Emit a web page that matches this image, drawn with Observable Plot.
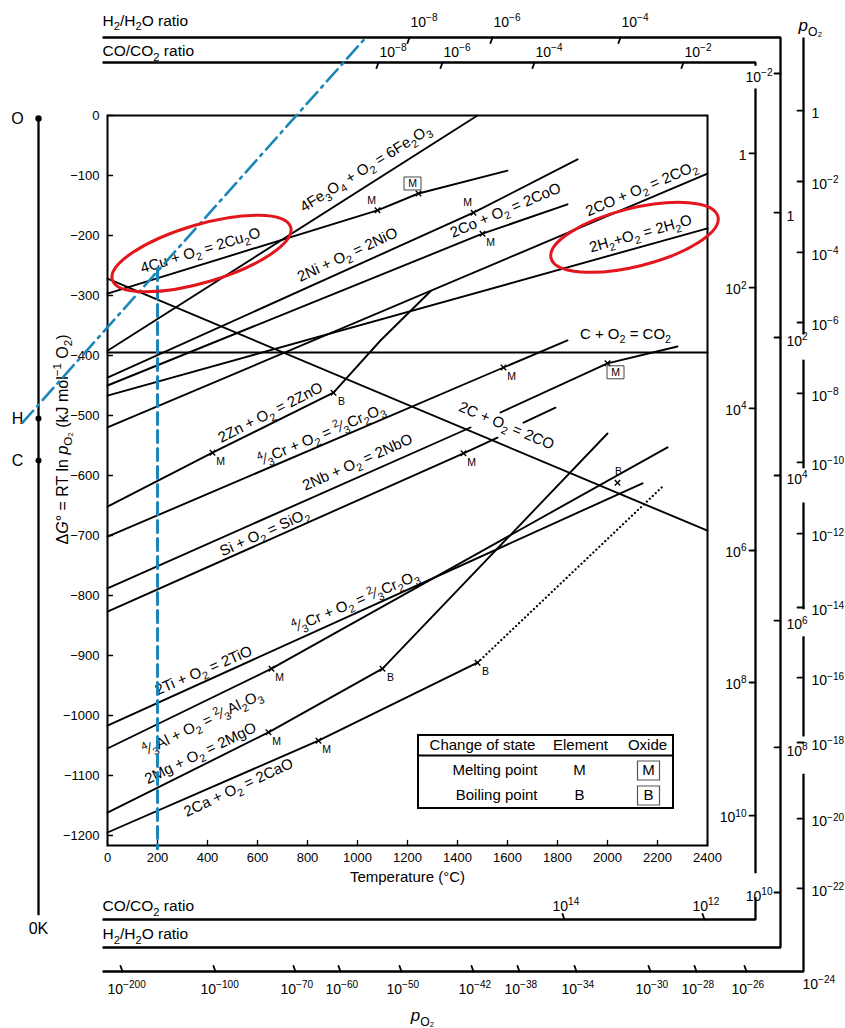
<!DOCTYPE html>
<html><head><meta charset="utf-8">
<script src="https://cdn.jsdelivr.net/npm/d3@7"></script>
<script src="https://cdn.jsdelivr.net/npm/@observablehq/plot@0.6"></script>
<style>
html,body{margin:0;padding:0;background:#fff;}
svg{display:block}
</style></head><body><div id="chart"></div>
<script>
// ================= DATA (T in °C, ΔG in kJ per mol O2) =================
const temperatureTicks = [0,200,400,600,800,1000,1200,1400,1600,1800,2000,2200,2400];
const deltaGTicks = [0,-100,-200,-300,-400,-500,-600,-700,-800,-900,-1000,-1100,-1200];

const lineCu2O   = [[0,-297],[1080,-158],[1244,-130],[1600,-92]];
const lineFe2O3  = [[0,-392],[1480,0]];
const lineNiO    = [[0,-437],[1464,-162],[1880,-73]];
const lineCoO    = [[0,-450],[1500,-197],[1840,-148]];
const lineCO2fromCO = [[0,-520],[2400,-97]];
const lineH2O    = [[0,-467],[2400,-188]];
const lineCO2    = [[0,-395],[2400,-395]];
const lineCO     = [[0,-272],[2400,-692]];
const lineZnO    = [[0,-652],[420,-562],[904,-462],[1092,-375],[1292,-293]];
const lineCr2O3  = [[0,-702],[1584,-420],[1840,-375]];
const lineNbO_a  = [[0,-788],[1452,-520]];
const lineNbO_b  = [[1572,-495],[2000,-413],[2280,-385]];
const lineSiO2_a = [[0,-827],[1424,-563],[1560,-537]];
const lineSiO2_b = [[1664,-512],[1792,-487]];
const lineTiO    = [[0,-1017],[2140,-613]];
const lineAl2O3  = [[0,-1055],[656,-922],[2240,-553]];
const lineMgO    = [[0,-1162],[644,-1028],[1100,-922],[2000,-530]];
const lineCaO    = [[0,-1195],[844,-1042],[1480,-912]];
const lineCaO_dotted = [[1480,-912],[2224,-617]];

const reactionLines = [
  ["Cu2O", lineCu2O], ["Fe2O3", lineFe2O3], ["NiO", lineNiO], ["CoO", lineCoO],
  ["CO2b", lineCO2fromCO], ["H2O", lineH2O], ["CO2", lineCO2], ["CO", lineCO],
  ["ZnO", lineZnO], ["Cr2O3", lineCr2O3], ["NbOa", lineNbO_a], ["NbOb", lineNbO_b],
  ["SiO2a", lineSiO2_a], ["SiO2b", lineSiO2_b], ["TiO", lineTiO], ["Al2O3", lineAl2O3],
  ["MgO", lineMgO], ["CaO", lineCaO]
];

// changes of state: kind M/B, oxide = boxed, pos = label placement
const transitions = [
  {T:1080, G:-158, kind:"M", oxide:false, pos:"upleft"},
  {T:1244, G:-130, kind:"M", oxide:true,  pos:"upleft"},
  {T:1464, G:-162, kind:"M", oxide:false, pos:"upleft"},
  {T:1500, G:-197, kind:"M", oxide:false, pos:"downright"},
  {T:420,  G:-562, kind:"M", oxide:false, pos:"downright"},
  {T:904,  G:-462, kind:"B", oxide:false, pos:"downright"},
  {T:1584, G:-420, kind:"M", oxide:false, pos:"downright"},
  {T:2000, G:-413, kind:"M", oxide:true,  pos:"downright"},
  {T:1424, G:-563, kind:"M", oxide:false, pos:"downright"},
  {T:2040, G:-612, kind:"B", oxide:false, pos:"up"},
  {T:656,  G:-922, kind:"M", oxide:false, pos:"downright"},
  {T:644,  G:-1028,kind:"M", oxide:false, pos:"downright"},
  {T:1100, G:-922, kind:"B", oxide:false, pos:"downright"},
  {T:844,  G:-1042,kind:"M", oxide:false, pos:"downright"},
  {T:1480, G:-912, kind:"B", oxide:false, pos:"downright"}
];

const reactionLabels = [
  {text:"4Cu + O_{2} = 2Cu_{2}O", T:372, G:-225, angle:-17},
  {text:"4Fe_{3}O_{4} + O_{2} = 6Fe_{2}O_{3}", T:1032, G:-88, angle:-32},
  {text:"2Ni + O_{2} = 2NiO", T:960, G:-232, angle:-25},
  {text:"2Co + O_{2} = 2CoO", T:1592, G:-158, angle:-23},
  {text:"2CO + O_{2} = 2CO_{2}", T:2136, G:-122, angle:-23},
  {text:"2H_{2}+O_{2} = 2H_{2}O", T:2132, G:-197, angle:-15.5},
  {text:"C + O_{2} = CO_{2}", T:2072, G:-365, angle:0},
  {text:"2Zn + O_{2} = 2ZnO", T:652, G:-495, angle:-27},
  {text:"^{4}⁄_{3}Cr + O_{2} = ^{2}⁄_{3}Cr_{2}O_{3}", T:856, G:-532, angle:-23},
  {text:"2Nb + O_{2} = 2NbO", T:1000, G:-578, angle:-24},
  {text:"Si + O_{2} = SiO_{2}", T:628, G:-695, angle:-24},
  {text:"2C + O_{2} = 2CO", T:1596, G:-517, angle:22.8},
  {text:"2Ti + O_{2} = 2TiO", T:384, G:-925, angle:-23},
  {text:"^{4}⁄_{3}Cr + O_{2} = ^{2}⁄_{3}Cr_{2}O_{3}", T:992, G:-810, angle:-23},
  {text:"^{4}⁄_{3}Al + O_{2} = ^{2}⁄_{3}Al_{2}O_{3}", T:380, G:-1012, angle:-26},
  {text:"2Mg + O_{2} = 2MgO", T:372, G:-1063, angle:-26},
  {text:"2Ca + O_{2} = 2CaO", T:524, G:-1120, angle:-25}
];

// ---- nomographic scales (positions in the same T / ΔG units) ----
const H2_TOP_G = 130, CO_TOP_G = 88.3;
const CO_RIGHT_T = 2592, H2_RIGHT_T = 2692, PO2_RIGHT_T = 2784;
const CO_BOTTOM_G = -1340, H2_BOTTOM_G = -1386.7, PO2_BOTTOM_G = -1426.7;
const ZERO_KELVIN_T = -276, SCALE_START_T = -20;

const h2TopTicks = [{T:1208,label:"10^{−8}"},{T:1540,label:"10^{−6}"},{T:2052,label:"10^{−4}"}];
const coTopTicks = [{T:1084,label:"10^{−8}"},{T:1340,label:"10^{−6}"},{T:1708,label:"10^{−4}"},{T:2304,label:"10^{−2}"}];
const coRightTicks = [{G:-63,label:"1"},{G:-287,label:"10^{2}"},{G:-488,label:"10^{4}"},{G:-725,label:"10^{6}"},{G:-945,label:"10^{8}"},{G:-1167,label:"10^{10}"}];
const h2RightTicksR = [{G:-162,label:"1"},{G:-370,label:"10^{2}"},{G:-600,label:"10^{4}"},{G:-842,label:"10^{6}"},{G:-1053,label:"10^{8}"}];
const h2RightTicksL = [{G:70,label:"10^{−2}"},{G:-1295,label:"10^{10}"}];
const coBottomTicks = [{T:1828,label:"10^{14}"},{T:2388,label:"10^{12}"}];
const pO2RightTicks = [{G:8,label:"1"},{G:-110,label:"10^{−2}"},{G:-228,label:"10^{−4}"},{G:-345,label:"10^{−6}"},{G:-463,label:"10^{−8}"},{G:-578,label:"10^{−10}"},{G:-697,label:"10^{−12}"},{G:-820,label:"10^{−14}"},{G:-937,label:"10^{−16}"},{G:-1045,label:"10^{−18}"},{G:-1172,label:"10^{−20}"},{G:-1288,label:"10^{−22}"}];
const pO2BottomTicks = [{T:60,label:"10^{−200}"},{T:432,label:"10^{−100}"},{T:752,label:"10^{−70}"},{T:932,label:"10^{−60}"},{T:1176,label:"10^{−50}"},{T:1464,label:"10^{−42}"},{T:1648,label:"10^{−38}"},{T:1876,label:"10^{−34}"},{T:2172,label:"10^{−30}"},{T:2356,label:"10^{−28}"},{T:2556,label:"10^{−26}"}];
const pO2CornerTick = [{T:2784,label:"10^{−24}"}];

const scaleFrames = [
  ["co1", [[SCALE_START_T,CO_TOP_G],[CO_RIGHT_T,CO_TOP_G],[CO_RIGHT_T,83]]],
  ["co2", [[CO_RIGHT_T,45],[CO_RIGHT_T,-1263]]],
  ["co3", [[CO_RIGHT_T,-1303],[CO_RIGHT_T,CO_BOTTOM_G],[SCALE_START_T,CO_BOTTOM_G]]],
  ["h2",  [[SCALE_START_T,H2_TOP_G],[H2_RIGHT_T,H2_TOP_G],[H2_RIGHT_T,H2_BOTTOM_G],[SCALE_START_T,H2_BOTTOM_G]]],
  ["p1",  [[PO2_RIGHT_T,130],[PO2_RIGHT_T,-365]]],
  ["p2",  [[PO2_RIGHT_T,-407],[PO2_RIGHT_T,-588]]],
  ["p3",  [[PO2_RIGHT_T,-645],[PO2_RIGHT_T,-823]]],
  ["p4",  [[PO2_RIGHT_T,-868],[PO2_RIGHT_T,-1035]]],
  ["p5",  [[PO2_RIGHT_T,-1097],[PO2_RIGHT_T,PO2_BOTTOM_G],[SCALE_START_T,PO2_BOTTOM_G]]],
  ["k0",  [[ZERO_KELVIN_T,-5],[ZERO_KELVIN_T,-1333]]]
];
const nomogramPoints = [{name:"O", G:-5, r:4.5}, {name:"H", G:-505, r:4}, {name:"C", G:-575, r:4}];

const blueDashed = [[200,-255],[200,-1222]];
const blueDashDot = [[-340,-512],[1040,133]];
const highlights = [{T:376, G:-230, angle:-16.5}, {T:2108, G:-203, angle:-14}];

const legendBox = {T1:1244, T2:2264, G1:-1033.3, G2:-1155, Gsep:-1066.7};
const legendHeader = [{text:"Change of state", T:1500},{text:"Element", T:1892},{text:"Oxide", T:2160}];
const legendRows = [{state:"Melting point", sym:"M", G:-1091.7},{state:"Boiling point", sym:"B", G:-1133.3}];

// ================= HELPERS =================
const FONT = "'Liberation Sans', Arial, Helvetica, sans-serif";
const rows = (list) => list.flatMap(([id, pts]) => pts.map(([T, G]) => ({id, T, G})));
const tickShape = {draw(ctx, l) { ctx.moveTo(0, 0); ctx.lineTo(0, -l); }};
function ellipseSymbol(rx, ry) {
  const k = 0.5522847;
  return {draw(ctx) {
    ctx.moveTo(rx, 0);
    ctx.bezierCurveTo(rx, ry * k, rx * k, ry, 0, ry);
    ctx.bezierCurveTo(-rx * k, ry, -rx, ry * k, -rx, 0);
    ctx.bezierCurveTo(-rx, -ry * k, -rx * k, -ry, 0, -ry);
    ctx.bezierCurveTo(rx * k, -ry, rx, -ry * k, rx, 0);
    ctx.closePath();
  }};
}
function boxSymbol(w, h) { return {draw(ctx) { ctx.rect(-w / 2, -h / 2, w, h); }}; }
const offsets = {upleft: [-6, -10], downright: [8, 9], up: [1, -11]};

const BLUE = "#1b86b8", RED = "#e3161d";
const tickOpts = {length: 6, anchor: "start", shape: tickShape, stroke: "black", strokeWidth: 1.8};
const scaleTextOpts = {text: "label", fontSize: 14};

// ================= PLOT =================
const plot = Plot.plot({
  width: 845, height: 1028,
  marginLeft: 107, marginRight: 138, marginTop: 115, marginBottom: 183,
  x: {domain: [0, 2400]},
  y: {domain: [-1216.67, 0]},
  style: {fontFamily: FONT, fontSize: "12px", background: "white", color: "black", overflow: "visible"},
  marks: [
    // nomogram frames
    Plot.line(rows(scaleFrames), {x: "T", y: "G", z: "id", stroke: "black", strokeWidth: 2.3, strokeLinejoin: "miter", strokeLinecap: "butt"}),
    Plot.vector(h2TopTicks, {x: "T", y: H2_TOP_G, rotate: 200, ...tickOpts}),
    Plot.vector(coTopTicks, {x: "T", y: CO_TOP_G, rotate: 200, ...tickOpts}),
    Plot.vector(coRightTicks, {x: CO_RIGHT_T, y: "G", rotate: 270, ...tickOpts}),
    Plot.vector(h2RightTicksR.concat(h2RightTicksL), {x: H2_RIGHT_T, y: "G", rotate: 270, ...tickOpts}),
    Plot.vector(pO2RightTicks, {x: PO2_RIGHT_T, y: "G", rotate: 270, ...tickOpts}),
    Plot.vector(coBottomTicks, {x: "T", y: CO_BOTTOM_G, rotate: 340, ...tickOpts}),
    Plot.vector(pO2BottomTicks, {x: "T", y: PO2_BOTTOM_G, rotate: 340, ...tickOpts}),
    Plot.text(h2TopTicks, {x: "T", y: H2_TOP_G, ...scaleTextOpts, textAnchor: "start", dx: 1, dy: -15}),
    Plot.text(coTopTicks, {x: "T", y: CO_TOP_G, ...scaleTextOpts, textAnchor: "start", dx: 1, dy: -10}),
    Plot.text(coRightTicks, {x: CO_RIGHT_T, y: "G", ...scaleTextOpts, textAnchor: "end", dx: -9, dy: 2}),
    Plot.text(h2RightTicksR, {x: H2_RIGHT_T, y: "G", ...scaleTextOpts, textAnchor: "start", dx: 6, dy: 4}),
    Plot.text(h2RightTicksL, {x: H2_RIGHT_T, y: "G", ...scaleTextOpts, textAnchor: "end", dx: -8, dy: 4}),
    Plot.text(pO2RightTicks, {x: PO2_RIGHT_T, y: "G", ...scaleTextOpts, textAnchor: "start", dx: 8, dy: 3}),
    Plot.text(coBottomTicks, {x: "T", y: CO_BOTTOM_G, ...scaleTextOpts, textAnchor: "start", dx: -12, dy: -13}),
    Plot.text(pO2BottomTicks, {x: "T", y: PO2_BOTTOM_G, ...scaleTextOpts, textAnchor: "start", dx: -15, dy: 18}),
    Plot.text(pO2CornerTick, {x: "T", y: PO2_BOTTOM_G, ...scaleTextOpts, textAnchor: "start", dx: -1, dy: 13}),
    Plot.text(["H_{2}/H_{2}O ratio"], {x: SCALE_START_T, y: 158, fontSize: 15.5, textAnchor: "start"}),
    Plot.text(["CO/CO_{2} ratio"], {x: SCALE_START_T, y: 107, fontSize: 15.5, textAnchor: "start"}),
    Plot.text(["CO/CO_{2} ratio"], {x: SCALE_START_T, y: -1318, fontSize: 15.5, textAnchor: "start"}),
    Plot.text(["H_{2}/H_{2}O ratio"], {x: SCALE_START_T, y: -1365, fontSize: 15.5, textAnchor: "start"}),
    Plot.text(["~{p}_{O₂}"], {x: PO2_RIGHT_T, y: 150, fontSize: 17, textAnchor: "start", dx: -5}),
    Plot.text(["~{p}_{O₂}"], {x: 1260, y: PO2_BOTTOM_G, fontSize: 17, dy: 44}),
    // 0 K nomogram axis
    Plot.dot(nomogramPoints, {x: ZERO_KELVIN_T, y: "G", r: "r", fill: "black", stroke: "none"}),
    Plot.text(nomogramPoints, {x: ZERO_KELVIN_T, y: "G", text: "name", fontSize: 16, dx: -21}),
    Plot.text(["0K"], {x: ZERO_KELVIN_T, y: -1333, fontSize: 16, dy: 14}),
    // main frame & axes
    Plot.frame({stroke: "black", strokeWidth: 2}),
    Plot.vector(deltaGTicks, {x: 0, y: d => d, rotate: 90, ...tickOpts, length: 5, strokeWidth: 1.3}),
    Plot.vector(temperatureTicks, {x: d => d, y: -1216.67, rotate: 0, ...tickOpts, length: 5, strokeWidth: 1.3}),
    Plot.axisY({ticks: deltaGTicks, tickSize: 0, tickPadding: 8, label: null, fontSize: 13, tickFormat: d => d === 0 ? "0" : "−" + Math.abs(d)}),
    Plot.axisX({ticks: temperatureTicks, tickSize: 0, tickPadding: 7, label: null, fontSize: 13, tickFormat: d => String(d)}),
    Plot.text(["Temperature (°C)"], {x: 1200, y: -1270, fontSize: 15}),
    Plot.text(["Δ~{G}° = RT ln ~{p}_{O₂} (kJ mol^{−1} O_{2})"], {x: -180, y: -540, rotate: -90, fontSize: 16}),
    // reaction lines
    Plot.line(rows(reactionLines), {x: "T", y: "G", z: "id", stroke: "black", strokeWidth: 1.9}),
    Plot.line(lineCaO_dotted.map(([T, G]) => ({T, G})), {x: "T", y: "G", stroke: "black", strokeWidth: 2.2, strokeDasharray: "0.1,4", strokeLinecap: "round"}),
    Plot.dot(transitions, {x: "T", y: "G", symbol: "times", r: 2.6, stroke: "black", strokeWidth: 1.4}),
    ...Object.entries(offsets).map(([pos, [dx, dy]]) =>
      Plot.text(transitions.filter(d => d.pos === pos), {x: "T", y: "G", text: "kind", fontSize: 10.5, dx, dy})),
    ...Object.entries(offsets).map(([pos, [dx, dy]]) =>
      Plot.dot(transitions.filter(d => d.pos === pos && d.oxide), {x: "T", y: "G", symbol: boxSymbol(17, 13), r: 5, stroke: "#444", strokeWidth: 1, dx, dy})),
    Plot.text(reactionLabels, {x: "T", y: "G", text: "text", rotate: "angle", fontSize: 15}),
    // legend
    Plot.rect([legendBox], {x1: "T1", x2: "T2", y1: "G1", y2: "G2", fill: "white", stroke: "black", strokeWidth: 2}),
    Plot.ruleY([legendBox], {y: "Gsep", x1: "T1", x2: "T2", stroke: "black", strokeWidth: 2}),
    Plot.text(legendHeader, {x: "T", y: -1050, text: "text", fontSize: 15}),
    Plot.text(legendRows, {x: 1720, y: "G", text: "state", fontSize: 15, textAnchor: "end"}),
    Plot.text(legendRows, {x: 1888, y: "G", text: "sym", fontSize: 15}),
    Plot.text(legendRows, {x: 2164, y: "G", text: "sym", fontSize: 15}),
    Plot.dot(legendRows, {x: 2164, y: "G", symbol: boxSymbol(22, 19), r: 5, stroke: "#555", strokeWidth: 1.2}),
    // blue construction lines
    Plot.line(blueDashed.map(([T, G]) => ({T, G})), {x: "T", y: "G", stroke: BLUE, strokeWidth: 3, strokeDasharray: "12,6"}),
    Plot.line(blueDashDot.map(([T, G]) => ({T, G})), {x: "T", y: "G", stroke: BLUE, strokeWidth: 2.6, strokeDasharray: "16,6,2.5,6"}),
    // red highlight ellipses
    Plot.dot([highlights[0]], {x: "T", y: "G", rotate: "angle", symbol: ellipseSymbol(93, 29), r: 5, stroke: RED, strokeWidth: 3}),
    Plot.dot([highlights[1]], {x: "T", y: "G", rotate: "angle", symbol: ellipseSymbol(86, 29), r: 5, stroke: RED, strokeWidth: 3})
  ]
});
document.getElementById("chart").appendChild(plot);

// rich text: _{sub} ^{sup} ~{italic}
function richify(root) {
  const ns = "http://www.w3.org/2000/svg";
  root.querySelectorAll("text").forEach(t => {
    const leafs = t.querySelector("tspan") ? [...t.querySelectorAll("tspan")] : [t];
    for (const el of leafs) {
      const s = el.textContent;
      if (!/[_^~]\{/.test(s)) continue;
      const fs = parseFloat(getComputedStyle(el).fontSize) || 12;
      el.textContent = "";
      const re = /([_^~])\{([^}]*)\}/g;
      let i = 0, m, shift = 0;
      const push = (str, target, small, italic) => {
        if (!str) return;
        const sp = document.createElementNS(ns, "tspan");
        const d = target - shift;
        if (d) sp.setAttribute("dy", d.toFixed(2));
        shift = target;
        if (small) sp.setAttribute("font-size", small.toFixed(1));
        if (italic) sp.setAttribute("font-style", "italic");
        sp.textContent = str;
        el.appendChild(sp);
      };
      while ((m = re.exec(s))) {
        push(s.slice(i, m.index), 0);
        if (m[1] === "_") push(m[2], 0.28 * fs, 0.72 * fs);
        else if (m[1] === "^") push(m[2], -0.4 * fs, 0.72 * fs);
        else push(m[2], 0, null, true);
        i = re.lastIndex;
      }
      push(s.slice(i), 0);
    }
  });
}
richify(plot);
</script>
</body></html>
